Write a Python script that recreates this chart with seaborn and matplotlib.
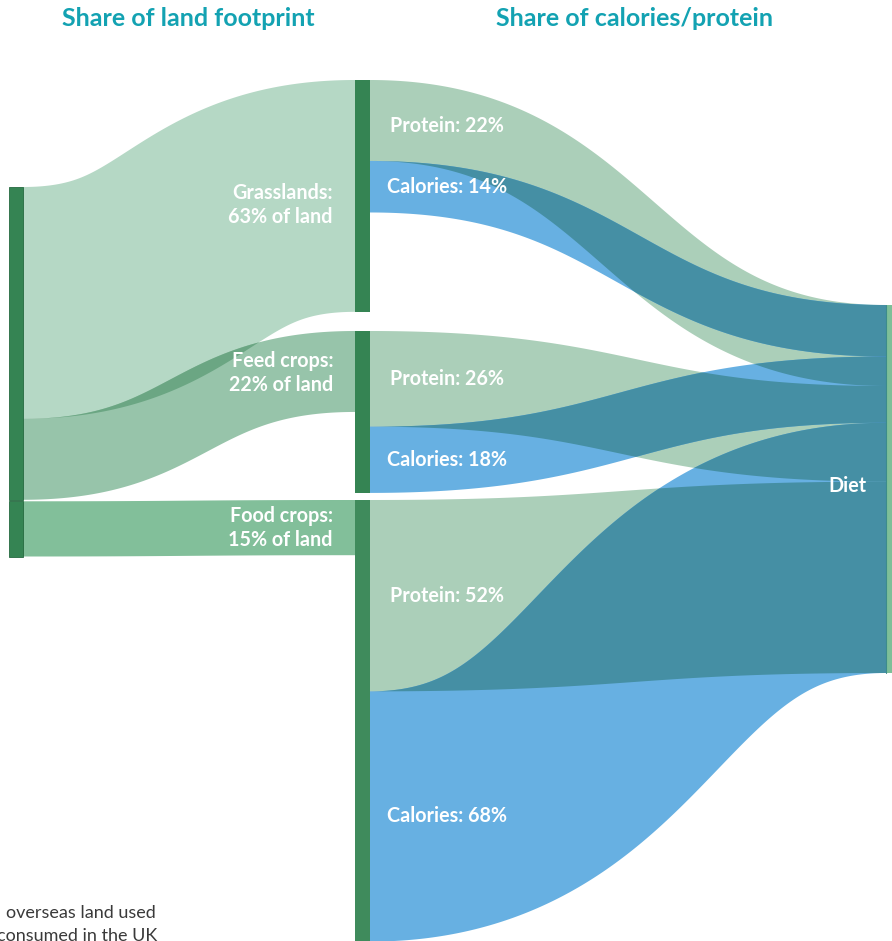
import numpy as np
import pandas as pd
import matplotlib
matplotlib.use("Agg")
import matplotlib.pyplot as plt
from matplotlib.patches import Polygon, Rectangle
import seaborn as sns

# Datos
categorias = ["Grasslands", "Feed crops", "Food crops"]
tierra = [63, 22, 15]          # % de la huella de tierra
proteina = [22, 26, 52]        # % de proteína
calorias = [14, 18, 68]        # % de calorías

etiquetas_tierra = ["Grasslands:\n63% of land", "Feed crops:\n22% of land", "Food crops:\n15% of land"]

# Estilo
sns.set_theme(style="white")
plt.rcParams["font.family"] = ["Lato", "DejaVu Sans"]

ESCALA = 3.68                      # px por punto porcentual
X_IZQ, X_MED, X_DIETA = (9, 23), (355, 370), (886, 894)
Y_IZQ = 187
Y_MED = [80, 331, 500]
Y_DIETA = 305
HUECO = [0, 0, 1.5]

c_nodo = "#358453"
c_tierra = ["#B5D8C5", "#97C4AA", "#82BF9A"]
c_prot = "#ABCFB9"
c_cal = "#67B0E2"
c_titulo = "#13A2B2"


def multiplicar(a, b):
    ra, rb = np.array(matplotlib.colors.to_rgb(a)), np.array(matplotlib.colors.to_rgb(b))
    return tuple(ra * rb)


def banda(x0, y0, x1, y1, ancho, n=240):
    """Trazo grueso de una curva sigmoide (como un enlace de d3-sankey)"""
    xm = (x0 + x1) / 2
    P = np.array([[x0, y0], [xm, y0], [xm, y1], [x1, y1]], dtype=float)
    t = np.linspace(0, 1, n)[:, None]
    p = (1 - t) ** 3 * P[0] + 3 * (1 - t) ** 2 * t * P[1] + 3 * (1 - t) * t ** 2 * P[2] + t ** 3 * P[3]
    d = 3 * (1 - t) ** 2 * (P[1] - P[0]) + 6 * (1 - t) * t * (P[2] - P[1]) + 3 * t ** 2 * (P[3] - P[2])
    d = d / np.linalg.norm(d, axis=1, keepdims=True)
    nrm = np.column_stack([-d[:, 1], d[:, 0]])
    return np.vstack([p + nrm * ancho / 2, (p - nrm * ancho / 2)[::-1]])


# Tabla de enlaces
filas = []
y = Y_IZQ
for i, cat in enumerate(categorias):
    y += HUECO[i]
    w = tierra[i] * ESCALA
    filas.append(dict(grupo="tierra", x0=X_IZQ[1], y0=y + w / 2, x1=X_MED[0],
                      y1=Y_MED[i] + w / 2, ancho=w, color=c_tierra[i]))
    y += w

yp, yc = Y_DIETA, Y_DIETA
for i, cat in enumerate(categorias):
    wp, wc = proteina[i] * ESCALA, calorias[i] * ESCALA
    filas.append(dict(grupo="dieta", x0=X_MED[1], y0=Y_MED[i] + wp / 2, x1=X_DIETA[0],
                      y1=yp + wp / 2, ancho=wp, color=c_prot))
    filas.append(dict(grupo="dieta", x0=X_MED[1], y0=Y_MED[i] + wp + wc / 2, x1=X_DIETA[0],
                      y1=yc + wc / 2, ancho=wc, color=c_cal))
    yp += wp
    yc += wc
enlaces = pd.DataFrame(filas)
enlaces["poly"] = [banda(r.x0, r.y0, r.x1, r.y1, r.ancho) for r in enlaces.itertuples()]

fig = plt.figure(figsize=(8.92, 9.41), dpi=100)
ax = fig.add_axes([0, 0, 1, 1])
ax.set_xlim(0, 892)
ax.set_ylim(941, 0)
ax.axis("off")

# Enlaces base
for r in enlaces.itertuples():
    ax.add_patch(Polygon(r.poly, closed=True, facecolor=r.color, edgecolor="none", zorder=1))

# Superposiciones con mezcla "multiply"
for g, sub in enlaces.groupby("grupo"):
    sub = sub.reset_index(drop=True)
    for i in range(len(sub)):
        for j in range(i + 1, len(sub)):
            p = Polygon(sub.poly[i], closed=True, facecolor=multiplicar(sub.color[i], sub.color[j]),
                        edgecolor="none", zorder=2)
            ax.add_patch(p)
            p.set_clip_path(Polygon(sub.poly[j], closed=True, transform=ax.transData))

# Nodos
tot_ganado = (tierra[0] + tierra[1]) * ESCALA
ax.add_patch(Rectangle((X_IZQ[0], Y_IZQ), X_IZQ[1] - X_IZQ[0], tot_ganado, facecolor=c_nodo,
                       edgecolor="#25693F", lw=0.6, zorder=3))
ax.add_patch(Rectangle((X_IZQ[0], Y_IZQ + tot_ganado + HUECO[2]), X_IZQ[1] - X_IZQ[0],
                       tierra[2] * ESCALA, facecolor=c_nodo, edgecolor="#25693F", lw=0.6, zorder=3))
c_med = [c_nodo, c_nodo, "#3F8B5C"]
for i in range(3):
    h = max(tierra[i], proteina[i] + calorias[i]) * ESCALA
    ax.add_patch(Rectangle((X_MED[0], Y_MED[i]), X_MED[1] - X_MED[0], h, facecolor=c_med[i],
                           edgecolor="none", zorder=3))
ax.add_patch(Rectangle((X_DIETA[0], Y_DIETA), X_DIETA[1] - X_DIETA[0], sum(proteina) * ESCALA,
                       facecolor="#7DBF98", edgecolor="none", zorder=3))
ax.plot([X_DIETA[0], X_DIETA[0]], [Y_DIETA, Y_DIETA + sum(proteina) * ESCALA], color="#3C8C8A",
        lw=0.8, zorder=4)

# Textos
txt = dict(color="white", fontsize=14.2, fontweight="bold", zorder=5)
y_lab_izq = [205, 373, 528]
for i in range(3):
    ax.text(333, y_lab_izq[i], etiquetas_tierra[i], ha="right", va="center",
            multialignment="right", linespacing=1.2, **txt)

for i in range(3):
    wp, wc = proteina[i] * ESCALA, calorias[i] * ESCALA
    ax.text(447, Y_MED[i] + wp / 2 + (6 if i == 0 else 0), f"Protein: {proteina[i]}%",
            ha="center", va="center", **txt)
    ax.text(447, Y_MED[i] + wp + wc / 2, f"Calories: {calorias[i]}%",
            ha="center", va="center", **txt)

ax.text(866, Y_DIETA + sum(proteina) * ESCALA / 2 - 3, "Diet", ha="right", va="center", **txt)

ax.text(188, 18, "Share of land footprint", ha="center", va="center", color=c_titulo,
        fontsize=18, fontweight="bold")
ax.text(635, 18, "Share of calories/protein", ha="center", va="center", color=c_titulo,
        fontsize=18, fontweight="bold")

ax.text(6, 913, "overseas land used", ha="left", va="center", color="#3A3A3A", fontsize=13)
ax.text(-3, 936, "consumed in the UK", ha="left", va="center", color="#3A3A3A", fontsize=13)

fig.savefig("out.png", dpi=100)
